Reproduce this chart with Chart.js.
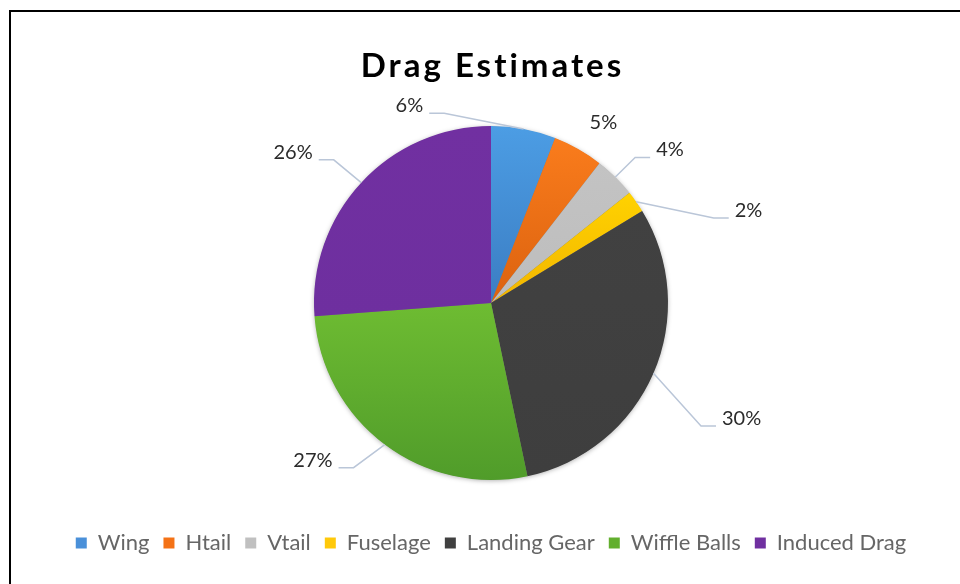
<!DOCTYPE html>
<html>
<head>
<meta charset="utf-8">
<script src="https://cdn.jsdelivr.net/npm/chart.js@4.4.1/dist/chart.umd.min.js"></script>
<style>
  html, body { margin: 0; padding: 0; background: #fff; overflow: hidden; }
  #wrap { position: relative; width: 960px; height: 584px; }
  #frame { position: absolute; left: 9px; top: 10px; width: 2000px; height: 2000px;
           border-left: 2px solid #000; border-top: 2px solid #000; pointer-events: none; }
  canvas { position: absolute; left: 0; top: 0; }
</style>
</head>
<body>
<div id="wrap">
  <canvas id="c" width="960" height="584"></canvas>
  <div id="frame"></div>
</div>
<script>
// ---- data ----
const categories = ['Wing', 'Htail', 'Vtail', 'Fuselage', 'Landing Gear', 'Wiffle Balls', 'Induced Drag'];
const dragShare = [5.9, 4.6, 3.8, 2.0, 30.4, 27.1, 26.2];
const chartTitle = 'Drag Estimates';

// ---- styles ----
const baseColors = ['#4A90D9', '#F47216', '#C0C0C0', '#FFC90A', '#404040', '#62AF2E', '#7030A0'];
const gradStops = [
  ['#4C9DE4', '#3B7DC3'],
  ['#FA7C1C', '#DB620F'],
  ['#C3C3C3', '#BDBDBD'],
  ['#FFD200', '#F2B500'],
  ['#414141', '#3E3E3E'],
  ['#6EBC32', '#509C2A'],
  ['#7130A1', '#6E2F9F']
];
// label placement: offset from pie centre, in units of the radius
const labelOffsets = [
  [-0.461, -1.115], [0.635, -1.017], [1.011, -0.865], [1.455, -0.522],
  [1.416, 0.652], [-1.006, 0.888], [-1.118, -0.851]
];

function sliceGeometry(chart) {
  const a = chart.chartArea;
  const cx = (a.left + a.right) / 2, cy = (a.top + a.bottom) / 2;
  const r = Math.min(a.width, a.height) / 2;
  return { cx, cy, r };
}

function sliceColor(ctx) {
  const i = ctx.dataIndex;
  const chart = ctx.chart;
  if (!chart.chartArea || i === undefined) return baseColors[i] || '#000';
  const { cy, r } = sliceGeometry(chart);
  const total = dragShare.reduce((s, v) => s + v, 0);
  let before = 0;
  for (let k = 0; k < i; k++) before += dragShare[k];
  const a0 = before / total * 2 * Math.PI, a1 = (before + dragShare[i]) / total * 2 * Math.PI;
  const ys = [cy, cy - r * Math.cos(a0), cy - r * Math.cos(a1)];
  if (a0 <= 0) ys.push(cy - r);
  if (a0 <= Math.PI && a1 >= Math.PI) ys.push(cy + r);
  const y0 = Math.min(...ys), y1 = Math.max(...ys);
  const g = chart.ctx.createLinearGradient(0, y0, 0, y1 + 0.01);
  g.addColorStop(0, gradStops[i][0]);
  g.addColorStop(1, gradStops[i][1]);
  return g;
}

const shadowPlugin = {
  id: 'pieShadow',
  beforeDatasetsDraw(chart) {
    const { cx, cy, r } = sliceGeometry(chart);
    const ctx = chart.ctx;
    ctx.save();
    ctx.shadowColor = 'rgba(0,0,0,0.35)';
    ctx.shadowBlur = 5;
    ctx.shadowOffsetY = 1;
    ctx.fillStyle = '#777';
    ctx.beginPath();
    ctx.arc(cx, cy, r - 0.5, 0, Math.PI * 2);
    ctx.fill();
    ctx.restore();
  }
};

const titlePlugin = {
  id: 'spacedTitle',
  afterDraw(chart) {
    const ctx = chart.ctx;
    const { cx } = sliceGeometry(chart);
    ctx.save();
    ctx.font = 'bold 33px Lato';
    ctx.letterSpacing = '3px';
    ctx.fillStyle = '#000';
    ctx.textAlign = 'center';
    ctx.textBaseline = 'alphabetic';
    ctx.fillText(chartTitle, cx + 1.5, chart.chartArea.top - 49);
    ctx.restore();
  }
};

const labelPlugin = {
  id: 'pctLabels',
  afterDatasetsDraw(chart) {
    const ctx = chart.ctx;
    const meta = chart.getDatasetMeta(0);
    const { cx, cy, r } = sliceGeometry(chart);
    const total = dragShare.reduce((s, v) => s + v, 0);
    ctx.save();
    ctx.font = '20px Lato';
    ctx.textAlign = 'center';
    ctx.textBaseline = 'middle';
    meta.data.forEach((arc, i) => {
      const text = Math.round(dragShare[i] / total * 100) + '%';
      const tx = cx + labelOffsets[i][0] * r;
      const ty = cy + labelOffsets[i][1] * r;
      const mid = (arc.startAngle + arc.endAngle) / 2;
      const px = cx + Math.cos(mid) * r, py = cy + Math.sin(mid) * r;
      const w = ctx.measureText(text).width;
      const right = tx < cx;
      const sx = right ? tx + w / 2 + 6 : tx - w / 2 - 6;
      const ly = ty + 7.5;
      const ex = right ? sx + 15 : sx - 15;
      if (Math.hypot(px - sx, py - ly) > 32) {
        ctx.strokeStyle = '#BAC6D8';
        ctx.lineWidth = 1.5;
        ctx.beginPath();
        ctx.moveTo(sx, ly);
        ctx.lineTo(ex, ly);
        ctx.lineTo(px, py);
        ctx.stroke();
      }
      ctx.fillStyle = '#2B2B2B';
      ctx.fillText(text, tx, ty);
    });
    ctx.restore();
  }
};

new Chart(document.getElementById('c'), {
  type: 'pie',
  data: {
    labels: categories,
    datasets: [{
      data: dragShare,
      backgroundColor: sliceColor,
      borderWidth: 0
    }]
  },
  options: {
    responsive: false,
    animation: false,
    devicePixelRatio: 1,
    layout: { padding: { top: 126, bottom: 20, left: 22, right: 0 } },
    plugins: {
      title: { display: false },
      legend: {
        position: 'bottom',
        title: { display: true, text: ' ', font: { size: 12, lineHeight: 1 }, padding: { top: 0, bottom: 26 } },
        labels: {
          boxWidth: 11,
          boxHeight: 11,
          padding: 14,
          color: '#1E1E1E',
          font: { family: 'Lato', size: 22 },
          generateLabels: (chart) => categories.map((c, i) => ({
            text: c, fillStyle: baseColors[i], strokeStyle: 'rgba(0,0,0,0)', lineWidth: 0, hidden: false, index: i
          }))
        }
      },
      tooltip: { enabled: false }
    }
  },
  plugins: [shadowPlugin, labelPlugin, titlePlugin]
});
</script>
</body>
</html>
